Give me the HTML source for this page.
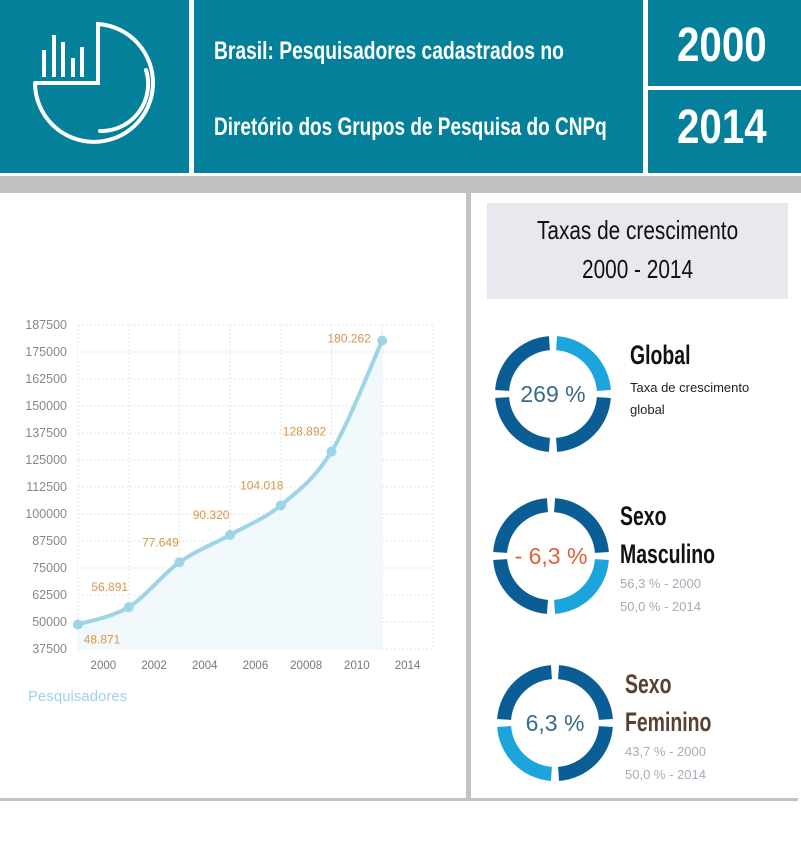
<!DOCTYPE html>
<html><head><meta charset="utf-8"><style>
body{margin:0;width:801px;height:859px;background:#fff;position:relative;overflow:hidden;font-family:"Liberation Sans",sans-serif}
.abs{position:absolute}
.cond{font-family:"Liberation Sans",sans-serif;font-weight:bold;transform-origin:0 0;white-space:nowrap}
</style></head><body>
<div class="abs" style="left:0;top:0;width:189px;height:173px;background:#04809a"></div>
<div class="abs" style="left:194px;top:0;width:449px;height:173px;background:#04809a"></div>
<div class="abs" style="left:648px;top:0;width:153px;height:86px;background:#04809a"></div>
<div class="abs" style="left:648px;top:90px;width:153px;height:83px;background:#04809a"></div>
<svg class="abs" style="left:0;top:0" width="189" height="173">
<g fill="none" stroke="#fff" stroke-width="4" stroke-linecap="round">
<path d="M35 83 H98 V24 A59 59 0 1 1 35 83"/>
<path d="M146 70 A47 47 0 0 1 100 131"/>
<path d="M44 77V50M54 77V35M63 77V42M73 77V58M82 77V47" stroke-linecap="butt" stroke-width="4"/>
</g></svg>
<div class="abs cond" style="left:214px;top:37px;color:#fff;font-size:25px;transform:scaleX(.77)">Brasil: Pesquisadores cadastrados no</div>
<div class="abs cond" style="left:214px;top:113px;color:#fff;font-size:25px;transform:scaleX(.76)">Diretório dos Grupos de Pesquisa do CNPq</div>
<div class="abs cond" style="left:677px;top:18px;color:#fff;font-size:48px;transform:scaleX(.84)">2000</div>
<div class="abs cond" style="left:677px;top:100px;color:#fff;font-size:48px;transform:scaleX(.84)">2014</div>
<div class="abs" style="left:0;top:176px;width:801px;height:17px;background:#c2c2c4"></div>
<div class="abs" style="left:466px;top:193px;width:5px;height:607px;background:#c2c2c4"></div>
<div class="abs" style="left:0;top:798px;width:798px;height:3px;background:#c2c2c4"></div>
<div class="abs" style="left:487px;top:203px;width:301px;height:96px;background:#e8e8ee"></div>
<div class="abs" style="left:537px;top:215px;font-size:26px;color:#111;transform-origin:0 0;transform:scaleX(.8);white-space:nowrap">Taxas de crescimento</div>
<div class="abs" style="left:582px;top:254px;font-size:26px;color:#111;transform-origin:0 0;transform:scaleX(.8);white-space:nowrap">2000 - 2014</div>

<svg class="abs" id="chart" style="left:0;top:300px" width="466" height="420"></svg>
<div class="abs" style="left:28px;top:688px;color:#9fd3e6;font-size:15px">Pesquisadores</div>

<svg class="abs" id="donuts" style="left:471px;top:300px" width="330" height="498"></svg>
<div class="abs cond" style="left:630px;top:340px;font-size:27px;color:#111;transform:scaleX(.72)">Global</div>
<div class="abs" style="left:630px;top:377px;font-size:13px;line-height:22px;color:#222">Taxa de crescimento<br>global</div>
<div class="abs cond" style="left:620px;top:497px;font-size:27px;line-height:38px;color:#111;transform:scaleX(.72)">Sexo<br>Masculino</div>
<div class="abs" style="left:620px;top:572px;font-size:13px;line-height:23px;color:#aaaab8">56,3 % - 2000<br>50,0 % - 2014</div>
<div class="abs cond" style="left:625px;top:665px;font-size:27px;line-height:38px;color:#5a4032;transform:scaleX(.72)">Sexo<br>Feminino</div>
<div class="abs" style="left:625px;top:740px;font-size:13px;line-height:23px;color:#aaaab8">43,7 % - 2000<br>50,0 % - 2014</div>

<script>
const categories=["2000","2002","2004","2006","20008","2010","2014"];
const values=[48871,56891,77649,90320,104018,128892,180262];
const valueLabels=["48.871","56.891","77.649","90.320","104.018","128.892","180.262"];
const yTicks=[187500,175000,162500,150000,137500,125000,112500,100000,87500,75000,62500,50000,37500];
const NS="http://www.w3.org/2000/svg";
const svg=document.getElementById('chart');
const x0=78,dx=50.7,yMin=37500,yMax=187500,yTop=25,yBot=349;
const X=i=>x0+i*dx;
const Y=v=>yBot-(v-yMin)/(yMax-yMin)*(yBot-yTop);
function mk(t,a){const e=document.createElementNS(NS,t);for(const k in a)e.setAttribute(k,a[k]);svg.appendChild(e);return e;}
yTicks.forEach(v=>{
 const l=mk('line',{x1:x0,x2:432,y1:Y(v),y2:Y(v),stroke:'#e4e4e4','stroke-dasharray':'2,2'});
 
 const t=mk('text',{x:67,y:Y(v)+4,'text-anchor':'end','font-size':12.5,fill:'#888','font-family':'Liberation Sans'});
 t.textContent=v;
});
for(let i=0;i<8;i++){const l=mk('line',{x1:X(i),x2:X(i),y1:yTop,y2:yBot,stroke:'#e4e4e4','stroke-dasharray':'2,2'});
 }
categories.forEach((c,i)=>{const t=mk('text',{x:X(i)+dx/2,y:369,'text-anchor':'middle','font-size':11.5,fill:'#777','font-family':'Liberation Sans'});
 t.textContent=c;});
const pts=values.map((v,i)=>[X(i),Y(v)]);
let d='M'+pts[0][0]+' '+pts[0][1];
for(let i=0;i<pts.length-1;i++){const p0=pts[i-1]||pts[i],p1=pts[i],p2=pts[i+1],p3=pts[i+2]||p2;
 d+=` C${p1[0]+(p2[0]-p0[0])/6} ${p1[1]+(p2[1]-p0[1])/6} ${p2[0]-(p3[0]-p1[0])/6} ${p2[1]-(p3[1]-p1[1])/6} ${p2[0]} ${p2[1]}`;}
const area=mk('path',{d:d+` L${pts[pts.length-1][0]} ${yBot} L${pts[0][0]} ${yBot} Z`,fill:'#eef7fb',opacity:0.8});

const line=mk('path',{d:d,fill:'none',stroke:'#9dd4e6','stroke-width':4});

pts.forEach((p,i)=>{const c=mk('circle',{cx:p[0],cy:p[1],r:5,fill:'#9dd4e6'});
 
 const t=mk('text',{x:p[0]-19,y:p[1]-16,'text-anchor':'middle','font-size':12,fill:'#d9954a','font-family':'Liberation Sans'});
 if(i===0){t.setAttribute('x',p[0]+24);t.setAttribute('y',p[1]+19);}
 if(i===5){t.setAttribute('x',p[0]-27);}
 if(i===6){t.setAttribute('x',p[0]-33);t.setAttribute('y',p[1]+2);}
 t.textContent=valueLabels[i];});

// donuts
const ds=document.getElementById('donuts');
const donutLabels=["269 %","- 6,3 %","6,3 %"];
const donutLight=[0,1,2];
const donutCenters=[[82,94],[80,256],[84,423]];
const labelColors=['#3a6a8a','#e0603e','#3a6a8a'];
function arc(cx,cy,R,r,a0,a1){const p=(a,rr)=>[cx+rr*Math.sin(a),cy-rr*Math.cos(a)];
 const A=p(a0,R),B=p(a1,R),C=p(a1,r),D=p(a0,r);
 return `M${A} A${R} ${R} 0 0 1 ${B} L${C} A${r} ${r} 0 0 0 ${D}Z`;}
donutCenters.forEach((c,k)=>{
 for(let q=0;q<4;q++){const g=0.07;const e=document.createElementNS(NS,'path');
  e.setAttribute('d',arc(c[0],c[1],58,44,q*Math.PI/2+g,(q+1)*Math.PI/2-g));
  e.setAttribute('fill',q===donutLight[k]?'#1ca5dc':'#0b5d96');
  
  
  ds.appendChild(e);}
 const t=document.createElementNS(NS,'text');
 t.setAttribute('x',c[0]);t.setAttribute('y',c[1]+8);t.setAttribute('text-anchor','middle');
 t.setAttribute('font-size',23);t.setAttribute('fill',labelColors[k]);t.setAttribute('font-family','Liberation Sans');
 t.textContent=donutLabels[k];
 
 
 ds.appendChild(t);});
</script>
</body></html>
